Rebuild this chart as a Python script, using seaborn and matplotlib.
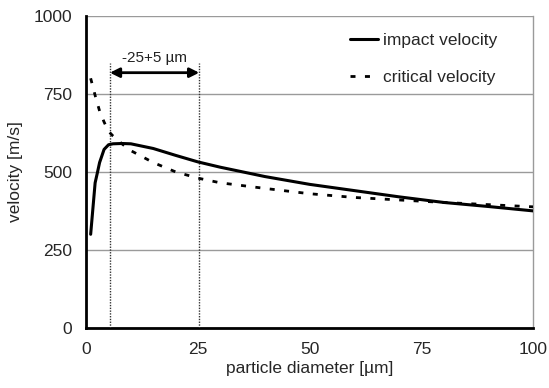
import matplotlib
matplotlib.use("Agg")
import matplotlib.pyplot as plt
import seaborn as sns
import pandas as pd

impact_d = [1, 2, 2.5, 3, 4, 5, 6, 8, 10, 15, 20, 25, 30, 40, 50, 60, 70, 80, 90, 100]
impact_v = [300, 465, 497, 530, 572, 587, 590, 591, 590, 575, 553, 532, 515, 485, 460, 440, 420, 402, 389, 375]

critical_d = [1, 2, 3, 4, 5, 6, 8, 10, 15, 20, 25, 30, 40, 50, 60, 70, 80, 90, 100]
critical_v = [800, 745, 695, 660, 630, 615, 590, 568, 530, 500, 480, 465, 447, 430, 418, 410, 402, 395, 388]

range_bounds = [5.3, 25.3]
range_label = "-25+5 µm"
x_ticks = [0, 25, 50, 75, 100]
y_ticks = [0, 250, 500, 750, 1000]

sns.set_theme(style="white")
plt.rcParams['font.family'] = ['Liberation Sans', 'DejaVu Sans']

fig = plt.figure(figsize=(5.49, 3.88), dpi=100)
ax = fig.add_axes([0.157, 0.155, 0.814, 0.804])

df_i = pd.DataFrame({"d": impact_d, "v": impact_v})
df_c = pd.DataFrame({"d": critical_d, "v": critical_v})
sns.lineplot(data=df_i, x="d", y="v", ax=ax, color="black", linewidth=2.2,
             label="impact velocity", zorder=4)
sns.lineplot(data=df_c, x="d", y="v", ax=ax, color="black", linewidth=2.0,
             linestyle=(0, (1.8, 3.4)), label="critical velocity", zorder=4)

ax.set_xlim(0, 100)
ax.set_ylim(0, 1000)
ax.set_xticks(x_ticks)
ax.set_yticks(y_ticks)
ax.yaxis.grid(True, color="#9a9a9a", linewidth=1.0)
ax.xaxis.grid(False)
ax.set_axisbelow(True)

for s in ["left", "bottom"]:
    ax.spines[s].set_color("black")
    ax.spines[s].set_linewidth(2.0)
ax.spines["right"].set_color("#9a9a9a")
ax.spines["right"].set_linewidth(1.0)
ax.spines["top"].set_visible(False)
ax.tick_params(axis="both", which="major", direction="out", length=5, width=2,
               color="black", labelsize=12.5, pad=5)

# range markers
for b in range_bounds:
    ax.plot([b, b], [0, 850], color="#333333", linestyle=(0, (1, 1)),
            linewidth=1.0, zorder=3)
ax.annotate("", xy=(range_bounds[0], 818), xytext=(range_bounds[1], 818),
            arrowprops=dict(arrowstyle="<|-|>", color="black", lw=2,
                            mutation_scale=14, shrinkA=0, shrinkB=0))
ax.text(sum(range_bounds) / 2, 865, range_label, ha="center", va="center",
        fontsize=11, color="#222222")

ax.set_xlabel("particle diameter [µm]", fontsize=12.5, labelpad=3)
ax.set_ylabel("velocity [m/s]", fontsize=12.5, labelpad=8)

leg = ax.legend(loc="upper right", bbox_to_anchor=(0.955, 0.995), frameon=False,
                fontsize=12.5, handlelength=1.6, handletextpad=0.3,
                labelspacing=1.25)

fig.savefig("out.png", dpi=100)
